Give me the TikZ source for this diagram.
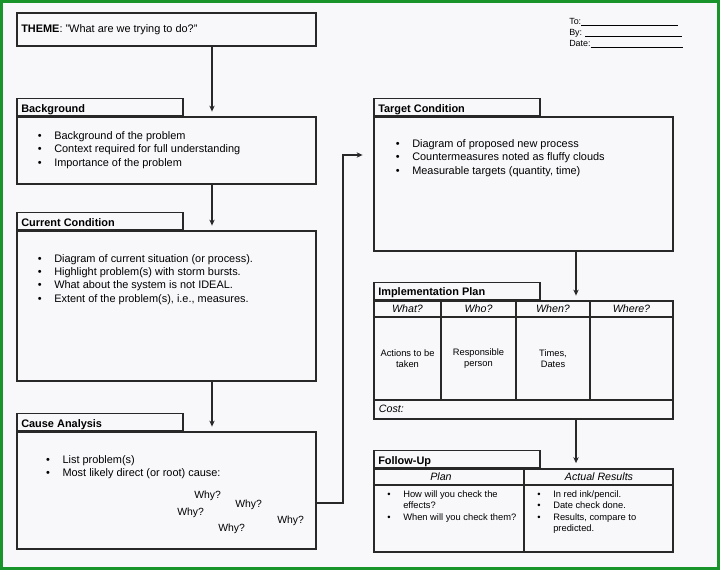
\documentclass[tikz,border=0pt]{standalone}
\usepackage{fontspec}
\setmainfont{Liberation Sans}
\usetikzlibrary{arrows.meta,positioning,shadows}
\definecolor{paper}{RGB}{248,247,250}
\definecolor{frame}{RGB}{24,148,42}
\definecolor{ink}{RGB}{40,40,40}
\newcommand{\pitem}[1]{\llap{\textbullet\hspace{9.4pt}}#1}
\newcommand{\fs}[1]{\fontsize{#1}{#1}\selectfont}

\begin{document}
\begin{tikzpicture}[x=0.75pt,y=-0.75pt,>=Stealth]
\tikzset{
  line/.style={draw=ink,line width=1.1pt},
  box/.style={line,fill=paper,minimum width=224.25pt,inner sep=0pt,
    drop shadow={shadow xshift=0.5pt,shadow yshift=-0.9pt,fill=black!55}},
  tab/.style={line,fill=paper,minimum width=124.5pt,minimum height=12.75pt,
    anchor=south west,inner sep=0pt},
  title/.style={font=\bfseries\fs{8.2},anchor=base west,inner sep=0pt},
  bul/.style={font=\fs{8.2},anchor=base west,inner sep=0pt},
  small/.style={font=\fs{7},anchor=base west,inner sep=0pt},
  head/.style={font=\itshape\fs{8},anchor=base,inner sep=0pt},
  cell/.style={font=\fontsize{7}{8}\selectfont,align=center,inner sep=0pt},
  why/.style={font=\fs{7.8},anchor=base west,inner sep=0pt},
  meta/.style={font=\fs{6.7},anchor=base west,inner sep=0pt},
  flow/.style={draw=ink,line width=1pt,shorten >=3.5pt,
    -{Stealth[length=4.5pt,width=4pt]}},
}
% paper and frame
\fill[paper] (0,0) rectangle (720,570);
\draw[frame,line width=2.4pt] (1.6,1.6) rectangle (718.4,568.4);
\useasboundingbox (0,0) rectangle (720,570);

% header
\node[meta] (to) at (569,24.3) {To:\rule[-1pt]{72.5pt}{0.4pt}};
\node[meta] (by) at (569,35.7) {By: \rule[-1pt]{72.5pt}{0.4pt}};
\node[meta] (date) at (569,46.3) {Date:\rule[-1pt]{69.5pt}{0.4pt}};

% left column
\node[box,minimum height=24.75pt] (theme) at (166.5,29.5) {};
\node[bul,font=\fs{8.2}] (theme-t) at (21,32.3) {\textbf{THEME}: "What are we trying to do?"};

\node[box,minimum height=50.25pt] (bg) at (166.5,150.5) {};
\node[tab] (bg-tab) at (bg.north west) {};
\node[title] (bg-t) at (21,112.3) {Background};
\foreach \t [count=\i] in {Background of the problem,
  Context required for full understanding, Importance of the problem}
  \node[bul] (bg-\i) at (54,{139.3+13.4*(\i-1)}) {\pitem{\t}};

\node[box,minimum height=112.5pt] (cur) at (166.5,306) {};
\node[tab] (cur-tab) at (cur.north west) {};
\node[title] (cur-t) at (21,226.7) {Current Condition};
\foreach \t [count=\i] in {Diagram of current situation (or process).,
  Highlight problem(s) with storm bursts., What about the system is not IDEAL.,
  {Extent of the problem(s), i.e., measures.}}
  \node[bul] (cur-\i) at (54,{262+13.4*(\i-1)}) {\pitem{\t}};

\node[box,minimum height=87.75pt] (cause) at (166.5,490.5) {};
\node[tab] (cause-tab) at (cause.north west) {};
\node[title] (cause-t) at (21,427.7) {Cause Analysis};
\foreach \t [count=\i] in {List problem(s), Most likely direct (or root) cause:}
  \node[bul] (cause-\i) at (62.3,{463.3+13.4*(\i-1)}) {\pitem{\t}};
\node[why] (why-1) at (194,498) {Why?};
\node[why] (why-2) at (235,507) {Why?};
\node[why] (why-3) at (177,515) {Why?};
\node[why] (why-4) at (277,523) {Why?};
\node[why] (why-5) at (218,531) {Why?};

% right column
\node[box,minimum height=100.5pt] (target) at (523.5,184) {};
\node[tab] (target-tab) at (target.north west) {};
\node[title] (target-t) at (378,112.3) {Target Condition};
\foreach \t [count=\i] in {Diagram of proposed new process,
  Countermeasures noted as fluffy clouds, {Measurable targets (quantity, time)}}
  \node[bul] (target-\i) at (412,{147.7+13.3*(\i-1)}) {\pitem{\t}};

\node[box,minimum height=88.5pt] (impl) at (523.5,360) {};
\node[tab] (impl-tab) at (impl.north west) {};
\node[title] (impl-t) at (378,295.7) {Implementation Plan};
\draw[line] (374,317) -- (673,317);
\draw[line] (374,400) -- (673,400);
\foreach \cx in {441,516,590}
  \draw[line,line width=0.8pt] (\cx,301) -- (\cx,400);
\node[head] (what) at (407.5,312.7) {What?};
\node[head] (who) at (478.5,312.7) {Who?};
\node[head] (when) at (553,312.7) {When?};
\node[head] (where) at (631.5,312.7) {Where?};
\node[cell] (what-c) at (407.5,358.5) {Actions to be\\taken};
\node[cell] (who-c) at (478.5,358.5) {Responsible\\person};
\node[cell] (when-c) at (553,358.5) {Times,\\Dates};
\node[head,anchor=base west] (cost) at (378.7,412) {Cost:};

\node[box,minimum width=112.5pt,minimum height=62.25pt] (plan) at (449,510.5) {};
\node[line,fill=paper,minimum width=111.75pt,minimum height=62.25pt,
  line width=1.8pt,inner sep=0pt] (actual) at (598.5,510.5) {};
\node[tab] (follow-tab) at (plan.north west) {};
\node[title] (follow-t) at (378,464.3) {Follow-Up};
\draw[line] (plan.north west |- 0,485) -- (actual.east |- 0,485);
\node[head] (plan-h) at (441,480.7) {Plan};
\node[head] (actual-h) at (599,480.7) {Actual Results};
\foreach \t [count=\i] in {{\pitem{How will you check the}}, effects?,
  {\pitem{When will you check them?}}}
  \node[small] (plan-\i) at (403,{497+11.5*(\i-1)}) {\t};
\foreach \t [count=\i] in {{\pitem{In red ink/pencil.}}, {\pitem{Date check done.}},
  {\pitem{Results, compare to}}, predicted.}
  \node[small] (actual-\i) at (553,{497+11.5*(\i-1)}) {\t};

% connectors
\coordinate (lcol) at (212,0);
\coordinate (rcol) at (576,0);
\coordinate (turn) at (343,503);
\coordinate (tin) at (374,155);
\draw[flow] (theme.south -| lcol) -- (bg.north -| lcol);
\draw[flow] (bg.south -| lcol) -- (cur.north -| lcol);
\draw[flow] (cur.south -| lcol) -- (cause.north -| lcol);
\draw[flow,shorten >=8pt] (cause.east |- turn) -- (turn) |- (target.west |- tin);
\draw[flow] (target.south -| rcol) -- (impl.north -| rcol);
\draw[flow] (impl.south -| rcol) -- (actual.north -| rcol);
\end{tikzpicture}
\end{document}
